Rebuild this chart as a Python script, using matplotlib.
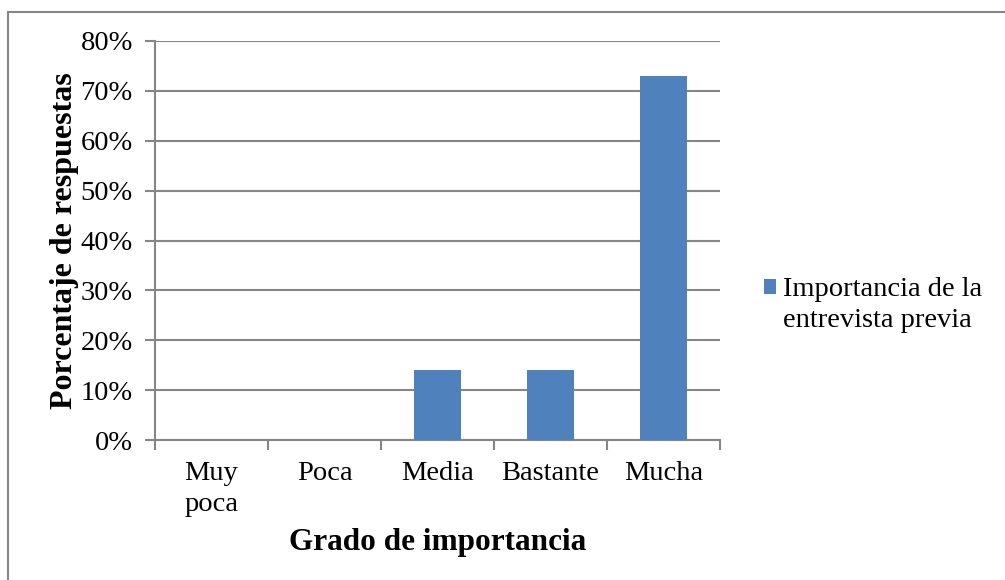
import matplotlib
matplotlib.use("Agg")
import matplotlib.pyplot as plt
from matplotlib.patches import Rectangle
from matplotlib.ticker import PercentFormatter

categories = ["Muy\npoca", "Poca", "Media", "Bastante", "Mucha"]
values = [0.0, 0.0, 0.14, 0.14, 0.73]
series_name = ["Importancia de la", "entrevista previa"]
y_ticks = [0.0, 0.1, 0.2, 0.3, 0.4, 0.5, 0.6, 0.7, 0.8]

plt.rcParams["font.family"] = ["Liberation Serif", "DejaVu Serif"]

BAR_COLOR = "#4F81BD"
GRID_COLOR = "#868686"

fig = plt.figure(figsize=(10.05, 5.8), dpi=100)
ax = fig.add_axes([155 / 1005, 1 - 440 / 580, 565 / 1005, 399 / 580])

x = list(range(len(categories)))
bars = ax.bar(x, values, width=0.41, color=BAR_COLOR, zorder=3)

ax.set_xlim(-0.5, len(categories) - 0.5)
ax.set_ylim(0, 0.8)
ax.set_yticks(y_ticks)
ax.yaxis.set_major_formatter(PercentFormatter(1.0, decimals=0))
ax.grid(axis="y", color=GRID_COLOR, linewidth=1.5, zorder=0)

ax.set_xticks(x)
ax.set_xticklabels(categories, fontsize=20.5, linespacing=1.3)
ax.set_xticks([i - 0.5 for i in range(len(categories) + 1)], minor=True)
ax.tick_params(axis="x", which="major", length=0, pad=15)
ax.tick_params(axis="x", which="minor", length=7, width=1.5, color=GRID_COLOR)
ax.tick_params(axis="y", length=7, width=1.5, color=GRID_COLOR, labelsize=20.5, pad=9)

for side in ("top", "right"):
    ax.spines[side].set_visible(False)
for side in ("left", "bottom"):
    ax.spines[side].set_color(GRID_COLOR)
    ax.spines[side].set_linewidth(1.5)

ax.set_xlabel("Grado de importancia", fontsize=22.5, fontweight="bold", labelpad=8)
ax.set_ylabel("Porcentaje de respuestas", fontsize=23, fontweight="bold", labelpad=1)

# the series name wraps onto a second row with no swatch of its own
blank = Rectangle((0, 0), 1, 1, fill=False, edgecolor="none")
ax.legend([bars, blank], series_name,
          loc="upper left", bbox_to_anchor=(753 / 1005, 1 - 266 / 580),
          bbox_transform=fig.transFigure, frameon=False, fontsize=20.5,
          handlelength=0.42, handleheight=0.42, handletextpad=0.25,
          borderaxespad=0, labelspacing=0.2)

# chart border: only the top and left edges fall inside the canvas
fig.patches.append(Rectangle((8 / 1005, -20 / 580), 1030 / 1005, 588 / 580,
                             transform=fig.transFigure, fill=False,
                             edgecolor=GRID_COLOR, linewidth=1.5))

fig.savefig("out.png", dpi=100)
